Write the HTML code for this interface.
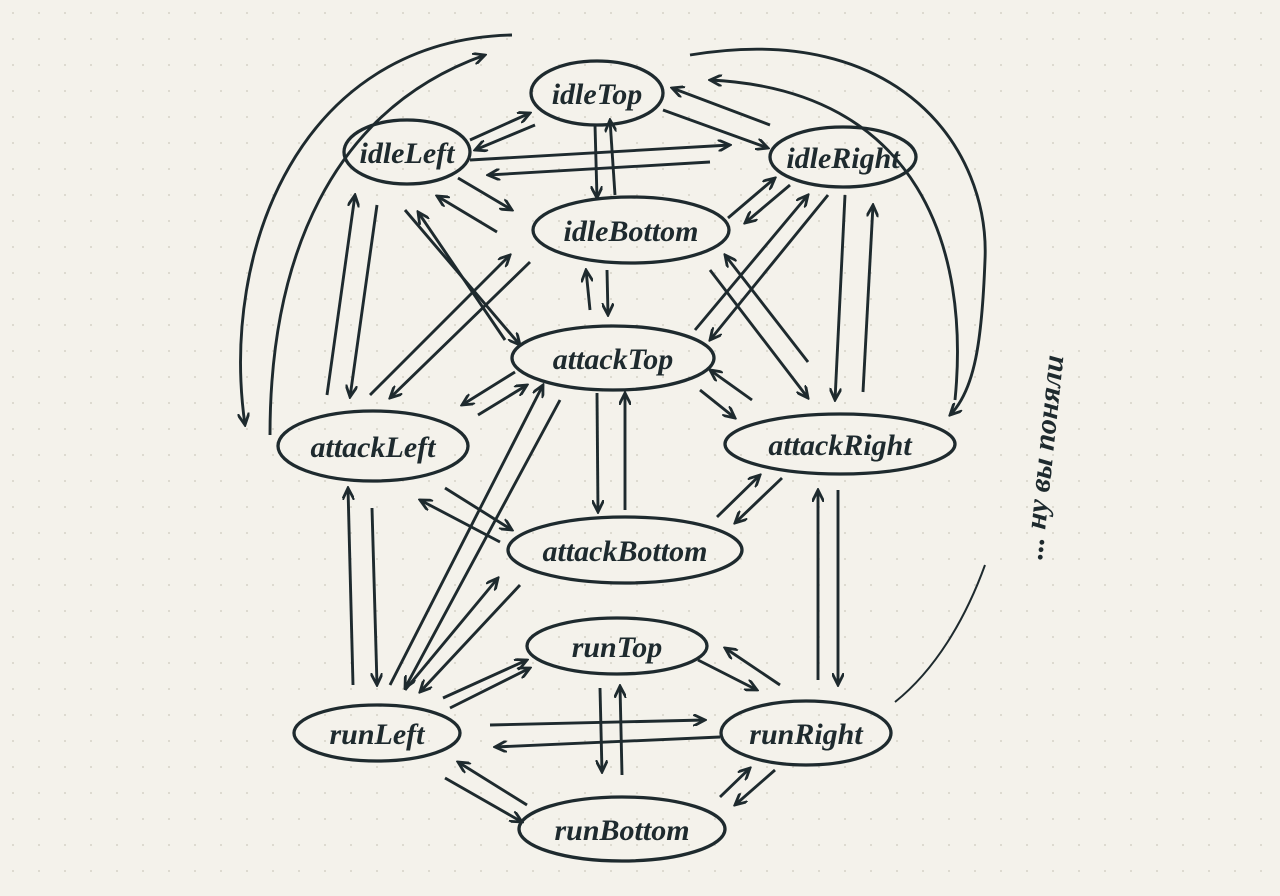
<!DOCTYPE html>
<html><head><meta charset="utf-8"><style>
html,body{margin:0;padding:0;background:#f4f2eb;}
svg{display:block}
text{font-family:"Liberation Serif",serif;font-style:italic;font-size:30px;fill:#1e2a2e;font-weight:bold}
</style></head><body>
<svg width="1280" height="896" viewBox="0 0 1280 896" xmlns="http://www.w3.org/2000/svg">
<defs>
<pattern id="dots" width="26" height="26" patternUnits="userSpaceOnUse"><circle cx="13" cy="13" r="1" fill="#d6d3c8"/></pattern>
<marker id="a" markerWidth="14" markerHeight="12" refX="12" refY="6" orient="auto" markerUnits="userSpaceOnUse"><path d="M0,0 L12,6 L0,12" fill="none" stroke="#1e2a2e" stroke-width="2.8"/></marker>
</defs>
<rect width="1280" height="896" fill="#f4f2eb"/>
<rect width="1280" height="896" fill="url(#dots)"/>
<g fill="none" stroke="#1e2a2e" stroke-width="3.3">
<ellipse cx="597" cy="93" rx="66" ry="32"/>
<ellipse cx="407" cy="152" rx="63" ry="32"/>
<ellipse cx="843" cy="157" rx="73" ry="30"/>
<ellipse cx="631" cy="230" rx="98" ry="33"/>
<ellipse cx="613" cy="358" rx="101" ry="32"/>
<ellipse cx="373" cy="446" rx="95" ry="35"/>
<ellipse cx="840" cy="444" rx="115" ry="30"/>
<ellipse cx="625" cy="550" rx="117" ry="33"/>
<ellipse cx="617" cy="646" rx="90" ry="28"/>
<ellipse cx="377" cy="733" rx="83" ry="28"/>
<ellipse cx="806" cy="733" rx="85" ry="32"/>
<ellipse cx="622" cy="829" rx="103" ry="32"/>
</g>
<g fill="none" stroke="#1e2a2e" stroke-width="2.9" marker-end="url(#a)">
<path d="M512,35 C300,40 220,250 245,425"/>
<path d="M270,435 C270,260 330,110 485,55"/>
<path d="M690,55 C900,20 990,150 985,260 C982,340 975,390 950,415"/>
<path d="M955,400 C970,250 920,90 710,80"/>
<path d="M470,140 L530,113"/>
<path d="M535,125 L475,150"/>
<path d="M663,110 L768,148"/>
<path d="M770,125 L672,88"/>
<path d="M470,160 L730,145"/>
<path d="M710,162 L488,175"/>
<path d="M595,125 L597,198"/>
<path d="M615,195 L610,120"/>
<path d="M458,178 L512,210"/>
<path d="M497,232 L437,196"/>
<path d="M728,218 L775,178"/>
<path d="M790,185 L745,223"/>
<path d="M590,310 L586,270"/>
<path d="M607,270 L608,315"/>
<path d="M327,395 L355,195"/>
<path d="M377,205 L350,397"/>
<path d="M845,195 L835,400"/>
<path d="M863,392 L873,205"/>
<path d="M405,210 L520,345"/>
<path d="M505,340 L418,212"/>
<path d="M695,330 L808,195"/>
<path d="M828,195 L710,340"/>
<path d="M370,395 L510,255"/>
<path d="M530,262 L390,398"/>
<path d="M710,270 L808,398"/>
<path d="M808,362 L725,255"/>
<path d="M515,372 L462,405"/>
<path d="M478,415 L527,385"/>
<path d="M700,390 L735,418"/>
<path d="M752,400 L710,370"/>
<path d="M597,393 L598,512"/>
<path d="M625,510 L625,393"/>
<path d="M445,488 L512,530"/>
<path d="M500,542 L420,500"/>
<path d="M717,517 L760,475"/>
<path d="M782,478 L735,523"/>
<path d="M353,685 L348,488"/>
<path d="M372,508 L377,685"/>
<path d="M818,680 L818,490"/>
<path d="M838,490 L838,685"/>
<path d="M390,685 L543,385"/>
<path d="M560,400 L405,688"/>
<path d="M405,690 L498,578"/>
<path d="M520,585 L420,692"/>
<path d="M443,698 L527,660"/>
<path d="M450,708 L530,668"/>
<path d="M698,660 L757,690"/>
<path d="M780,685 L725,648"/>
<path d="M490,725 L705,720"/>
<path d="M720,737 L495,747"/>
<path d="M600,688 L602,772"/>
<path d="M622,775 L620,686"/>
<path d="M445,778 L522,822"/>
<path d="M527,805 L458,762"/>
<path d="M720,797 L750,768"/>
<path d="M775,770 L735,805"/>
</g>
<path d="M895,702 C935,670 965,620 985,565" fill="none" stroke="#1e2a2e" stroke-width="2"/>
<text x="597" y="104" text-anchor="middle">idleTop</text>
<text x="407" y="163" text-anchor="middle">idleLeft</text>
<text x="843" y="168" text-anchor="middle">idleRight</text>
<text x="631" y="241" text-anchor="middle">idleBottom</text>
<text x="613" y="369" text-anchor="middle">attackTop</text>
<text x="373" y="457" text-anchor="middle">attackLeft</text>
<text x="840" y="455" text-anchor="middle">attackRight</text>
<text x="625" y="561" text-anchor="middle">attackBottom</text>
<text x="617" y="657" text-anchor="middle">runTop</text>
<text x="377" y="744" text-anchor="middle">runLeft</text>
<text x="806" y="744" text-anchor="middle">runRight</text>
<text x="622" y="840" text-anchor="middle">runBottom</text>
<text transform="translate(1042,560) rotate(-84)" font-size="36" style="font-family:'Liberation Serif','Noto Serif CJK SC',serif">... ну вы поняли</text>
</svg>
</body></html>
